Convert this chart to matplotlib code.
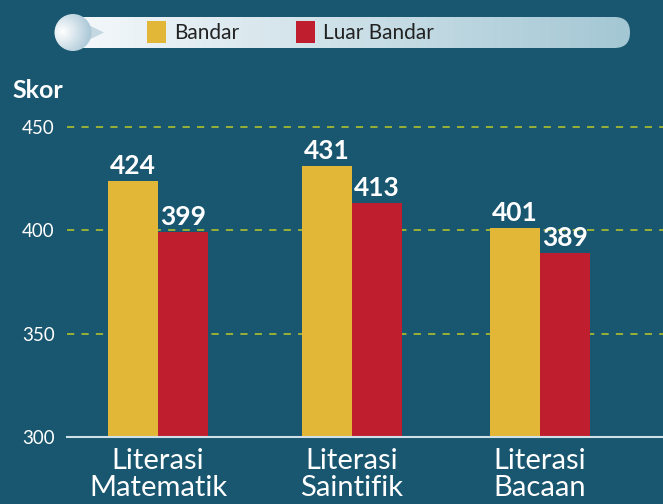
import numpy as np
import matplotlib
matplotlib.use("Agg")
import matplotlib.pyplot as plt
from matplotlib.patches import FancyBboxPatch, Circle, Polygon, Rectangle

categories = ["Literasi\nMatematik", "Literasi\nSaintifik", "Literasi\nBacaan"]
bandar = [424, 431, 401]
luar_bandar = [399, 413, 389]
series_names = ["Bandar", "Luar Bandar"]
yticks = [300, 350, 400, 450]

BG = "#19566f"
YEL = "#e2b637"
RED = "#be1e2d"
GRID = "#a3b832"
FONT = ["Lato", "DejaVu Sans"]

plt.rcParams['font.family'] = FONT

W, H = 663, 504
fig = plt.figure(figsize=(W / 100, H / 100), dpi=100, facecolor=BG)

# main axes
left, right, bottom, top = 67, 663, 437, 127
ax = fig.add_axes([left / W, 1 - bottom / H, (right - left) / W, (bottom - top) / H])
ax.set_facecolor(BG)
ax.set_ylim(300, 450)
px = 191.0
x0 = 158
ax.set_xlim((left - x0) / px, (right - x0) / px)
bw = 50 / px
x = np.array([0.0, 194 / px, 382 / px])
ax.bar(x - bw / 2, np.array(bandar) - 300, bw, bottom=300, color=YEL, zorder=3)
ax.bar(x + bw / 2, np.array(luar_bandar) - 300, bw, bottom=300, color=RED, zorder=3)

for xi, v in zip(x - bw / 2, bandar):
    ax.text(xi, v + 1.5, str(v), ha="center", va="bottom", color="white",
            fontsize=19, fontweight="bold", zorder=4)
for xi, v in zip(x + bw / 2, luar_bandar):
    ax.text(xi, v + 1.5, str(v), ha="center", va="bottom", color="white",
            fontsize=19, fontweight="bold", zorder=4)

for y in yticks[1:]:
    ax.axhline(y, color=GRID, lw=1.3, ls=(0, (4, 4)), zorder=1, clip_on=False)
ax.axhline(300, color="#cfe0e8", lw=1.5, zorder=4, clip_on=False)

for s in ax.spines.values():
    s.set_visible(False)
ax.set_yticks(yticks)
ax.set_yticklabels([str(t) for t in yticks], color="white", fontsize=13.5)
ax.tick_params(axis="y", length=0, pad=9)
ax.set_xticks(x)
ax.set_xticklabels(categories, color="white", fontsize=21, linespacing=1.05)
ax.tick_params(axis="x", length=0, pad=8)

fig.text(12 / W, 1 - 90 / H, "Skor", color="white", fontsize=18, fontweight="bold",
         va="center", ha="left")

# legend overlay
ov = fig.add_axes([0, 0, 1, 1], zorder=10)
ov.set_xlim(0, W)
ov.set_ylim(H, 0)
ov.axis("off")
ov.patch.set_alpha(0)

pill = FancyBboxPatch((62, 17), 568, 31, boxstyle="round,pad=0,rounding_size=15.5",
                      facecolor="none", edgecolor="none")
ov.add_patch(pill)
grad = np.linspace(0, 1, 256)[None, :]
c0 = np.array([0.97, 0.98, 0.99])
c1 = np.array([0.64, 0.78, 0.83])
img = c0[None, None, :] * (1 - grad[..., None]) + c1[None, None, :] * grad[..., None]
im = ov.imshow(img, extent=[55, 631, 48, 17], aspect="auto", zorder=1)
im.set_clip_path(pill)

tri = Polygon([[72, 17], [104, 32.5], [72, 48]], closed=True, facecolor="#c3d8e1",
              edgecolor="none", zorder=2)
ov.add_patch(tri)
circ = Circle((73, 32.5), 18.5, facecolor="none", edgecolor="none")
ov.add_patch(circ)
yy, xx = np.mgrid[0:64, 0:64]
r = np.clip(((xx - 14) ** 2 + (yy - 30) ** 2) ** 0.5 / 55, 0, 1)
cin = np.array([1.0, 1.0, 1.0])
cout = np.array([0.62, 0.75, 0.82])
sph = cin[None, None, :] * (1 - r[..., None]) + cout[None, None, :] * r[..., None]
im2 = ov.imshow(sph, extent=[54, 92, 51, 14], aspect="auto", zorder=3)
im2.set_clip_path(circ)

ov.add_patch(Rectangle((147, 21), 19, 22, facecolor=YEL, zorder=4))
ov.text(174, 33, series_names[0], color="#222222", fontsize=15, va="center", ha="left", zorder=4)
ov.add_patch(Rectangle((296, 21), 19, 22, facecolor=RED, zorder=4))
ov.text(323, 33, series_names[1], color="#222222", fontsize=15, va="center", ha="left", zorder=4)

fig.savefig("out.png", dpi=100, facecolor=BG)
